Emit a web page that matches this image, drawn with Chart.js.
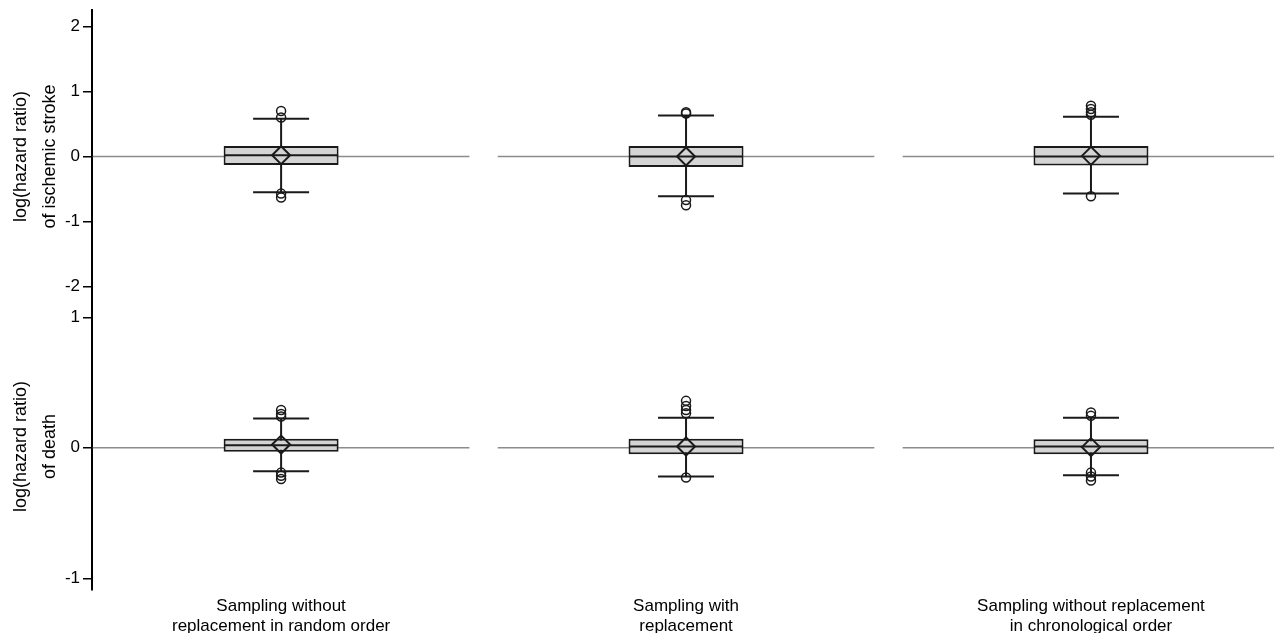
<!DOCTYPE html>
<html>
<head>
<meta charset="utf-8">
<script src="https://cdn.jsdelivr.net/npm/chart.js@4"></script>
<style>
  html, body { margin: 0; background: #fff; }
  #wrap { width: 1274px; height: 633px; }
</style>
</head>
<body>
<div id="wrap"><canvas id="chart"></canvas></div>
<script>
// Three sampling schemes, one box per scheme in each row.
const categories = [
  ["Sampling without", "replacement in random order"],
  ["Sampling with", "replacement"],
  ["Sampling without replacement", "in chronological order"],
];

// Top row: log(hazard ratio) of ischemic stroke
const strokeTicks = [-2, -1, 0, 1, 2];
const strokeQ1 = [-0.13, -0.16, -0.14];
const strokeQ3 = [0.16, 0.16, 0.16];
const strokeMedian = [0.02, 0.0, 0.0];
const strokeMean = [0.02, 0.0, 0.01];
const strokeLow = [-0.55, -0.61, -0.57];
const strokeHigh = [0.58, 0.63, 0.61];
const strokeOutliers = [
  [0.70, 0.60, -0.57, -0.63],
  [0.66, 0.68, -0.67, -0.75],
  [0.78, 0.73, 0.68, 0.64, -0.61],
];

// Bottom row: log(hazard ratio) of death
const deathTicks = [-1, 0, 1];
const deathQ1 = [-0.03, -0.05, -0.05];
const deathQ3 = [0.07, 0.07, 0.065];
const deathMedian = [0.02, 0.01, 0.01];
const deathMean = [0.025, 0.01, 0.005];
const deathLow = [-0.18, -0.22, -0.21];
const deathHigh = [0.225, 0.23, 0.23];
const deathOutliers = [
  [0.29, 0.26, 0.24, -0.19, -0.215, -0.24],
  [0.36, 0.32, 0.29, 0.265, -0.228],
  [0.27, 0.245, -0.19, -0.22, -0.25],
];

const FONT = '"Liberation Sans", Arial, sans-serif';
const INK = "#1a1a1a";
const PANEL_HALF = 0.465; // each panel's reference line runs this far either side of its box

function boxDatasets(axisId, q1, q3, med, mean, lo, hi, outliers) {
  const xs = q1.map((_, i) => i);
  const pts = arr => xs.map(i => ({ x: i, y: arr[i] }));
  const common = { yAxisID: axisId, xAxisID: "x" };
  return [
    { ...common, type: "line", order: 10,
      data: xs.flatMap(i => [{ x: i - PANEL_HALF, y: 0 }, { x: i + PANEL_HALF, y: 0 }, { x: i + 0.5, y: null }]),
      borderColor: "#8c8c8c", borderWidth: 1.5, pointRadius: 0 },
    { ...common, type: "line", order: 9,
      data: xs.flatMap(i => [{ x: i, y: lo[i] }, { x: i, y: hi[i] }, { x: i, y: null }]),
      borderColor: INK, borderWidth: 2, pointRadius: 0 },
    { ...common, type: "bar", order: 8,
      data: xs.map(i => ({ x: i, y: [q1[i], q3[i]] })),
      backgroundColor: "#d4d4d4", borderColor: INK, borderWidth: 2, borderSkipped: false,
      grouped: false, barPercentage: 0.284, categoryPercentage: 1 },
    { ...common, type: "scatter", order: 7, data: pts(lo).concat(pts(hi)),
      pointStyle: "line", pointRadius: 28, borderColor: INK, borderWidth: 2 },
    { ...common, type: "scatter", order: 6, data: pts(med),
      pointStyle: "line", pointRadius: 57, borderColor: INK, borderWidth: 2 },
    { ...common, type: "scatter", order: 5, data: pts(mean),
      pointStyle: "rectRot", pointRadius: 9, borderColor: INK, borderWidth: 2,
      backgroundColor: "rgba(0,0,0,0)" },
    { ...common, type: "scatter", order: 4,
      data: xs.flatMap(i => outliers[i].map(v => ({ x: i, y: v }))),
      pointStyle: "circle", pointRadius: 4.5, borderColor: INK, borderWidth: 1.5,
      backgroundColor: "rgba(0,0,0,0)" },
  ];
}

function yAxis(ticks, min, max, title, weight, stackWeight) {
  return {
    type: "linear", position: "left", stack: "rows", stackWeight, weight,
    min, max, stacked: false,
    afterBuildTicks: s => { s.ticks = ticks.map(v => ({ value: v })); },
    afterFit: s => { s.width = 92; s.paddingTop = 0; s.paddingBottom = 0; },
    ticks: { color: "#000", padding: 3, font: { family: FONT, size: 17 } },
    grid: { drawOnChartArea: false, drawTicks: true, tickLength: 9, color: "#000", lineWidth: 1.5 },
    border: { display: true, color: "#000", width: 2 },
    title: { display: true, text: title, color: "#000", padding: { top: 6, bottom: 0 },
             font: { family: FONT, size: 18, lineHeight: 1.62 } },
  };
}

new Chart(document.getElementById("chart"), {
  type: "scatter",
  data: {
    datasets: [
      ...boxDatasets("y", strokeQ1, strokeQ3, strokeMedian, strokeMean, strokeLow, strokeHigh, strokeOutliers),
      ...boxDatasets("y2", deathQ1, deathQ3, deathMedian, deathMean, deathLow, deathHigh, deathOutliers),
    ],
  },
  options: {
    responsive: true,
    maintainAspectRatio: false,
    animation: false,
    events: [],
    layout: { autoPadding: false, padding: { top: 10, right: 0, bottom: 0, left: 0 } },
    plugins: { legend: { display: false }, tooltip: { enabled: false } },
    scales: {
      x: {
        type: "linear", min: -0.467, max: 2.452, offset: false,
        afterBuildTicks: s => { s.ticks = categories.map((_, i) => ({ value: i })); },
        afterFit: s => { s.height = 43; s.paddingLeft = 0; s.paddingRight = 0; },
        ticks: {
          autoSkip: false, maxRotation: 0, padding: -2, color: "#000",
          font: { family: FONT, size: 17, lineHeight: 1.2 },
          callback: (v, i) => categories[i],
        },
        grid: { display: false },
        border: { display: false },
      },
      y: yAxis(strokeTicks, -2.25, 2.25, ["log(hazard ratio)", "of ischemic stroke"], 2, 293),
      y2: yAxis(deathTicks, -1.09, 1.11, ["log(hazard ratio)", "of death"], 1, 287),
    },
  },
});
</script>
</body>
</html>
